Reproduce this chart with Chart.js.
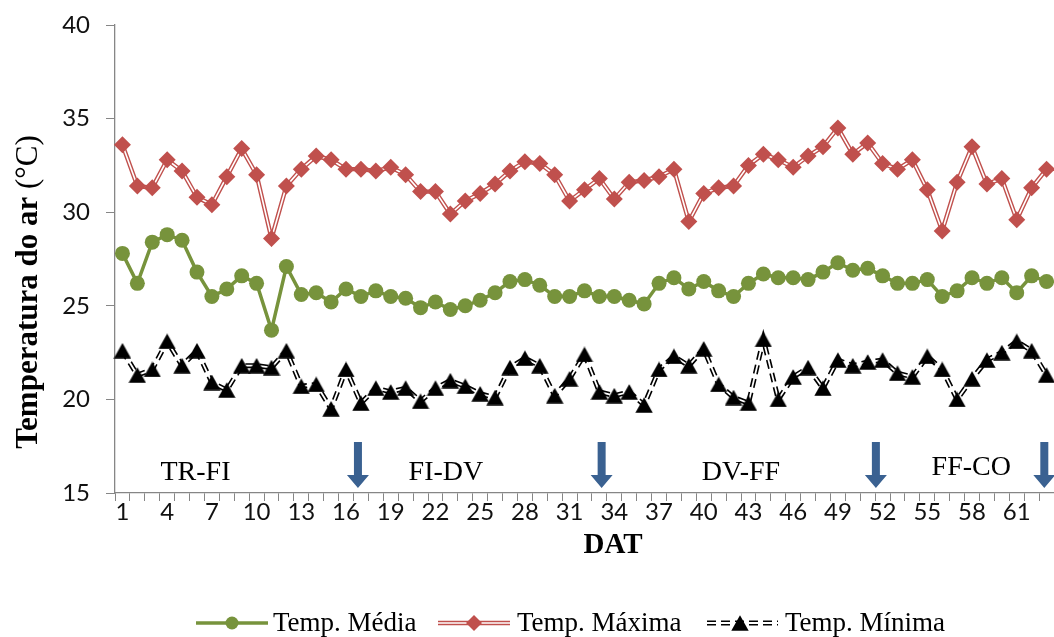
<!DOCTYPE html>
<html>
<head>
<meta charset="utf-8">
<script src="https://cdn.jsdelivr.net/npm/chart.js@4.4.0/dist/chart.umd.min.js"></script>
<style>
html,body{margin:0;padding:0;background:#fff;}
#wrap{width:1054px;height:637px;position:relative;}
</style>
</head>
<body>
<div id="wrap"><canvas id="c" width="1054" height="637"></canvas></div>
<script>
// ---- data ----
const days = ['1','2','3','4','5','6','7','8','9','10','11','12','13','14','15','16','17','18','19','20',
  '21','22','23','24','25','26','27','28','29','30','31','32','33','34','35','36','37','38','39','40',
  '41','42','43','44','45','46','47','48','49','50','51','52','53','54','55','56','57','58','59','60',
  '61','62','63'];
const shownTicks = ['1','4','7','10','13','16','19','22','25','28','31','34','37','40','43','46','49','52','55','58','61'];
const yTicks = [15, 20, 25, 30, 35, 40];

const tMedia = [27.8,26.2,28.4,28.8,28.5,26.8,25.5,25.9,26.6,26.2,23.7,27.1,25.6,25.7,25.2,25.9,25.5,25.8,25.5,25.4,
  24.9,25.2,24.8,25.0,25.3,25.7,26.3,26.4,26.1,25.5,25.5,25.8,25.5,25.5,25.3,25.1,26.2,26.5,25.9,26.3,
  25.8,25.5,26.2,26.7,26.5,26.5,26.4,26.8,27.3,26.9,27.0,26.6,26.2,26.2,26.4,25.5,25.8,26.5,26.2,26.5,
  25.7,26.6,26.3];
const tMaxima = [33.6,31.4,31.3,32.8,32.2,30.8,30.4,31.9,33.4,32.0,28.6,31.4,32.3,33.0,32.8,32.3,32.3,32.2,32.4,32.0,
  31.1,31.1,29.9,30.6,31.0,31.5,32.2,32.7,32.6,32.0,30.6,31.2,31.8,30.7,31.6,31.7,31.9,32.3,29.5,31.0,
  31.3,31.4,32.5,33.1,32.8,32.4,33.0,33.5,34.5,33.1,33.7,32.6,32.3,32.8,31.2,29.0,31.6,33.5,31.5,31.8,
  29.6,31.3,32.3];
const tMinima = [22.6,21.3,21.6,23.1,21.8,22.6,20.9,20.5,21.8,21.8,21.7,22.6,20.7,20.8,19.5,21.6,19.8,20.6,20.4,20.6,
  19.9,20.6,21.0,20.7,20.3,20.1,21.7,22.2,21.8,20.2,21.1,22.4,20.4,20.2,20.4,19.7,21.6,22.3,21.8,22.7,
  20.8,20.1,19.8,23.2,20.0,21.2,21.7,20.6,22.1,21.8,22.0,22.1,21.4,21.2,22.3,21.6,20.0,21.1,22.1,22.5,
  23.1,22.6,21.3];

const seriesNames = ['Temp. Média', 'Temp. Máxima', 'Temp. Mínima'];
const phaseLabels = ['TR-FI', 'FI-DV', 'DV-FF', 'FF-CO'];
const phaseDay = [5.9, 22.7, 42.5, 57.95];
const phaseTemp = [16.1, 16.1, 16.1, 16.35];
const arrowDay = [16.8, 33.15, 51.55, 62.85];
const arrowTopTemp = 17.72;
const arrowTipTemp = 15.27;

// ---- styles ----
const GREEN = '#77933C', RED = '#C0504D', BLACK = '#000000', ARROW = '#3A6191', AXIS = '#868686';
const SERIF = '"Liberation Serif","Times New Roman",serif';
const SANS = 'Lato, "Open Sans", sans-serif';

function makeTriangle(w, h) {
  const cv = document.createElement('canvas');
  cv.width = w; cv.height = h;
  const c = cv.getContext('2d');
  c.fillStyle = '#000';
  c.beginPath();
  c.moveTo(w / 2, 0.3);
  c.lineTo(w - 0.3, h - 0.3);
  c.lineTo(0.3, h - 0.3);
  c.closePath();
  c.fill();
  return cv;
}
const triImg = makeTriangle(18, 16);

const decor = {
  id: 'decor',
  afterDraw(chart) {
    const { ctx, scales: { x, y } } = chart;
    ctx.save();
    // phase labels
    ctx.fillStyle = '#000';
    ctx.font = '28px ' + SERIF;
    ctx.textAlign = 'center';
    ctx.textBaseline = 'middle';
    phaseLabels.forEach((t, k) => {
      ctx.fillText(t, x.getPixelForValue(phaseDay[k] - 1), y.getPixelForValue(phaseTemp[k]));
    });
    // arrows
    ctx.fillStyle = ARROW;
    arrowDay.forEach(d => {
      const px = x.getPixelForValue(d - 1);
      const top = y.getPixelForValue(arrowTopTemp);
      const tip = y.getPixelForValue(arrowTipTemp);
      const headH = 13, sw = 4, hw = 11;
      ctx.beginPath();
      ctx.moveTo(px - sw, top);
      ctx.lineTo(px + sw, top);
      ctx.lineTo(px + sw, tip - headH);
      ctx.lineTo(px + hw, tip - headH);
      ctx.lineTo(px, tip);
      ctx.lineTo(px - hw, tip - headH);
      ctx.lineTo(px - sw, tip - headH);
      ctx.closePath();
      ctx.fill();
    });
    // x title
    ctx.fillStyle = '#000';
    ctx.font = 'bold 29px ' + SERIF;
    ctx.textAlign = 'center';
    ctx.textBaseline = 'middle';
    ctx.fillText('DAT', 613, 546);
    // y title (rotated)
    ctx.save();
    ctx.translate(29, 292);
    ctx.rotate(-Math.PI / 2);
    const p1 = 'Temperatura do ar ', p2 = '(°C)';
    ctx.font = 'bold 31px ' + SERIF;
    const w1 = ctx.measureText(p1).width;
    ctx.font = '31px ' + SERIF;
    const w2 = ctx.measureText(p2).width;
    const start = -(w1 + w2) / 2;
    ctx.textAlign = 'left';
    ctx.font = 'bold 31px ' + SERIF;
    ctx.fillText(p1, start, 0);
    ctx.font = '31px ' + SERIF;
    ctx.fillText(p2, start + w1, 0);
    ctx.restore();
    // legend
    const ly = 623;
    ctx.textAlign = 'left';
    ctx.textBaseline = 'alphabetic';
    ctx.font = '27px ' + SERIF;
    // green
    ctx.strokeStyle = GREEN; ctx.lineWidth = 3.5;
    ctx.beginPath(); ctx.moveTo(196, ly); ctx.lineTo(268, ly); ctx.stroke();
    ctx.fillStyle = GREEN;
    ctx.beginPath(); ctx.arc(232, ly, 6.5, 0, Math.PI * 2); ctx.fill();
    ctx.fillStyle = '#000';
    ctx.fillText(seriesNames[0], 273, 631);
    // red
    ctx.strokeStyle = RED; ctx.lineWidth = 4.4;
    ctx.beginPath(); ctx.moveTo(438, ly); ctx.lineTo(510, ly); ctx.stroke();
    ctx.strokeStyle = '#fff'; ctx.lineWidth = 1.6;
    ctx.beginPath(); ctx.moveTo(438, ly); ctx.lineTo(510, ly); ctx.stroke();
    ctx.fillStyle = RED;
    ctx.beginPath(); ctx.moveTo(474 - 8, ly); ctx.lineTo(474, ly - 8); ctx.lineTo(474 + 8, ly); ctx.lineTo(474, ly + 8); ctx.closePath(); ctx.fill();
    ctx.fillStyle = '#000';
    ctx.fillText(seriesNames[1], 517, 631);
    // black
    ctx.strokeStyle = BLACK; ctx.lineWidth = 5; ctx.setLineDash([9, 5]);
    ctx.beginPath(); ctx.moveTo(707, ly); ctx.lineTo(778, ly); ctx.stroke();
    ctx.setLineDash([]);
    ctx.strokeStyle = '#fff'; ctx.lineWidth = 1.8;
    ctx.beginPath(); ctx.moveTo(707, ly); ctx.lineTo(778, ly); ctx.stroke();
    ctx.drawImage(triImg, 740 - 9, ly - 8);
    ctx.fillStyle = '#000';
    ctx.fillText(seriesNames[2], 785, 631);
    ctx.restore();
  }
};

new Chart(document.getElementById('c'), {
  type: 'line',
  data: {
    labels: days,
    datasets: [
      { label: seriesNames[0], data: tMedia, borderColor: GREEN, backgroundColor: GREEN, borderWidth: 3.5,
        pointStyle: 'circle', pointRadius: 7.5, pointBorderWidth: 0, pointBackgroundColor: GREEN, order: 5 },
      // Máxima: double line = thick red + thin white, then markers
      { label: seriesNames[1] + ' line', data: tMaxima, borderColor: RED, borderWidth: 4.4, pointRadius: 0, order: 12 },
      { label: seriesNames[1] + ' gap', data: tMaxima, borderColor: '#ffffff', borderWidth: 1.6, pointRadius: 0, order: 11 },
      { label: seriesNames[1], data: tMaxima, showLine: false, pointStyle: 'rectRot', pointRadius: 8.5,
        pointBorderWidth: 0, pointBackgroundColor: RED, borderColor: RED, order: 10 },
      // Mínima: dashed double line
      { label: seriesNames[2] + ' line', data: tMinima, borderColor: BLACK, borderWidth: 5, borderDash: [9, 5], pointRadius: 0, order: 22 },
      { label: seriesNames[2] + ' gap', data: tMinima, borderColor: '#ffffff', borderWidth: 1.8, pointRadius: 0, order: 21 },
      { label: seriesNames[2], data: tMinima, showLine: false, pointStyle: triImg, pointRadius: 9,
        pointBackgroundColor: BLACK, borderColor: BLACK, order: 20 }
    ]
  },
  options: {
    responsive: false,
    animation: false,
    devicePixelRatio: 1,
    layout: { autoPadding: false, padding: { top: 25, right: 0, left: 0, bottom: 0 } },
    elements: { line: { tension: 0 } },
    plugins: { legend: { display: false }, tooltip: { enabled: false } },
    scales: {
      x: {
        type: 'category',
        offset: true,
        grid: { display: true, drawOnChartArea: false, drawTicks: true, tickLength: 8, offset: true, color: AXIS, lineWidth: 1 },
        border: { display: true, color: AXIS, width: 1.3 },
        ticks: {
          autoSkip: false, maxRotation: 0, minRotation: 0, padding: -3, color: '#111',
          font: { family: SANS, size: 24 },
          callback: function (v, i) { return shownTicks.includes(days[i]) ? days[i] : ''; }
        },
        afterFit: function (s) {
          s.height = 144; s.paddingLeft = 0; s.paddingRight = 0;
          s.getPadding = function () { return { left: 0, right: 0, top: 0, bottom: 0 }; };
        }
      },
      y: {
        min: 15, max: 40,
        afterBuildTicks: function (s) { s.ticks = yTicks.map(v => ({ value: v })); },
        grid: { display: true, drawOnChartArea: false, drawTicks: true, tickLength: 9, color: AXIS, lineWidth: 1 },
        border: { display: true, color: AXIS, width: 1.3 },
        ticks: { padding: 16, color: '#111', font: { family: SANS, size: 24 } },
        afterFit: function (s) {
          s.width = 115; s.paddingTop = 0; s.paddingBottom = 0;
          s.getPadding = function () { return { left: 0, right: 0, top: 0, bottom: 0 }; };
        }
      }
    }
  },
  plugins: [decor]
});
</script>
</body>
</html>
